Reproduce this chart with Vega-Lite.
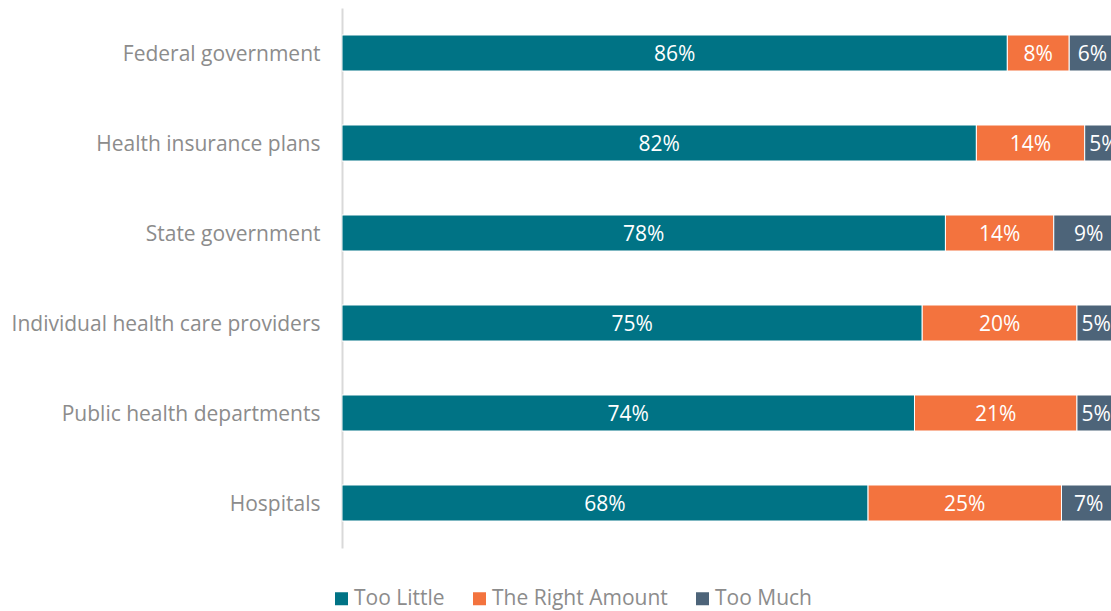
{
  "$schema": "https://vega.github.io/schema/vega-lite/v6.json",
  "width": 769,
  "height": 540,
  "autosize": {"type": "none"},
  "padding": {"left": 342, "top": 8, "right": 0, "bottom": 63},
  "background": "white",
  "data": {
    "values": [
      {"org": "Federal government", "response": "Too Little", "ord": 1, "pct": 86},
      {"org": "Federal government", "response": "The Right Amount", "ord": 2, "pct": 8},
      {"org": "Federal government", "response": "Too Much", "ord": 3, "pct": 6},
      {"org": "Health insurance plans", "response": "Too Little", "ord": 1, "pct": 82},
      {"org": "Health insurance plans", "response": "The Right Amount", "ord": 2, "pct": 14},
      {"org": "Health insurance plans", "response": "Too Much", "ord": 3, "pct": 5},
      {"org": "State government", "response": "Too Little", "ord": 1, "pct": 78},
      {"org": "State government", "response": "The Right Amount", "ord": 2, "pct": 14},
      {"org": "State government", "response": "Too Much", "ord": 3, "pct": 9},
      {"org": "Individual health care providers", "response": "Too Little", "ord": 1, "pct": 75},
      {"org": "Individual health care providers", "response": "The Right Amount", "ord": 2, "pct": 20},
      {"org": "Individual health care providers", "response": "Too Much", "ord": 3, "pct": 5},
      {"org": "Public health departments", "response": "Too Little", "ord": 1, "pct": 74},
      {"org": "Public health departments", "response": "The Right Amount", "ord": 2, "pct": 21},
      {"org": "Public health departments", "response": "Too Much", "ord": 3, "pct": 5},
      {"org": "Hospitals", "response": "Too Little", "ord": 1, "pct": 68},
      {"org": "Hospitals", "response": "The Right Amount", "ord": 2, "pct": 25},
      {"org": "Hospitals", "response": "Too Much", "ord": 3, "pct": 7}
    ]
  },
  "transform": [
    {"stack": "pct", "groupby": ["org"], "sort": [{"field": "ord", "order": "ascending"}], "as": ["x0", "x1"]},
    {"calculate": "(datum.x0 + datum.x1) / 2", "as": "mid"},
    {"calculate": "datum.pct + '%'", "as": "label"}
  ],
  "encoding": {
    "y": {
      "field": "org",
      "type": "nominal",
      "sort": ["Federal government", "Health insurance plans", "State government", "Individual health care providers", "Public health departments", "Hospitals"],
      "scale": {"paddingInner": 0.6, "paddingOuter": 0.3},
      "axis": {
        "title": null,
        "ticks": false,
        "grid": false,
        "domainColor": "#D9D9D9",
        "domainWidth": 2,
        "labelFont": "Open Sans",
        "labelFontSize": 21,
        "labelColor": "#8C8C8C",
        "labelPadding": 22,
        "labelLimit": 400,
        "labelOffset": 2
      }
    }
  },
  "layer": [
    {
      "mark": {"type": "bar", "clip": true, "stroke": "white", "strokeWidth": 1},
      "encoding": {
        "x": {"field": "x0", "type": "quantitative", "scale": {"domain": [0, 99.4], "nice": false}, "axis": null},
        "x2": {"field": "x1"},
        "color": {
          "field": "response",
          "type": "nominal",
          "scale": {"domain": ["Too Little", "The Right Amount", "Too Much"], "range": ["#007385", "#F3733E", "#4D6479"]},
          "legend": {
            "title": null,
            "orient": "none",
            "direction": "horizontal",
            "legendX": -11,
            "legendY": 580,
            "symbolType": "square",
            "symbolSize": 169,
            "symbolStrokeWidth": 0,
            "symbolOpacity": 1,
            "labelFont": "Open Sans",
            "labelFontSize": 21,
            "labelColor": "#8C8C8C",
            "labelOffset": 2,
            "columnPadding": 24,
            "labelLimit": 300
          }
        }
      }
    },
    {
      "mark": {"type": "text", "clip": true, "color": "white", "font": "Open Sans", "fontSize": 21, "baseline": "middle", "align": "center", "dy": 2},
      "encoding": {
        "x": {"field": "mid", "type": "quantitative"},
        "text": {"field": "label"}
      }
    }
  ],
  "config": {"view": {"stroke": null}}
}
